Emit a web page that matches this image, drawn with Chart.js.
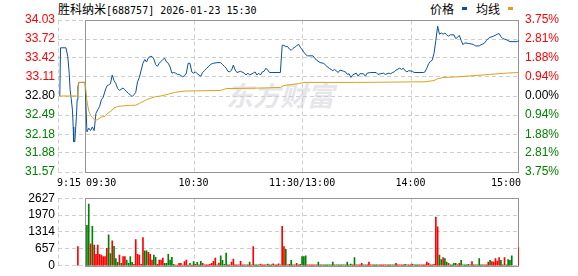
<!DOCTYPE html>
<html>
<head>
<meta charset="utf-8">
<script src="https://cdn.jsdelivr.net/npm/chart.js@4.4.1/dist/chart.umd.min.js"></script>
<style>
  body { margin: 0; background: #fff; width: 578px; height: 276px; overflow: hidden; position: relative; }
  .abs { position: absolute; white-space: nowrap; }
  .cjk { font-family: "Noto Sans CJK SC", sans-serif; font-size: 12px; line-height: 14px; color: #000; }
  .mono { font-family: "DejaVu Sans Mono", monospace; font-size: 10px; }
  .key { position: absolute; width: 5px; height: 3px; }
  #wm { position: absolute; left: 226px; top: 77px; font-family: "Noto Sans CJK SC", sans-serif; font-size: 27px; font-weight: bold; font-style: italic; line-height: 36px; color: #e6e6ea; white-space: nowrap; }
  canvas { position: absolute; left: 0; }
</style>
</head>
<body>
<div id="wm">东方财富</div>
<div class="abs cjk" style="left:58px;top:2px">胜科纳米<span class="mono">[688757] 2026-01-23 15:30</span></div>
<div class="abs cjk" style="left:430px;top:2px">价格</div>
<div class="key" style="left:462px;top:7px;background:#0a50a1"></div>
<div class="abs cjk" style="left:476px;top:2px">均线</div>
<div class="key" style="left:508px;top:7px;background:#dca11c"></div>
<canvas id="priceChart" width="578" height="190" style="top:0"></canvas>
<canvas id="volChart" width="578" height="88" style="top:188px"></canvas>
<script>
// Minutes from 09:30 (13:00 = 120, 15:00 = 240); negative = call auction
const priceTimes = [-14, -13.6, -10.6, -9.6, -8.8, -8.3, -7.7, -7.0, -6.6, -6.3, -5.7, -5.4, -4.8, -4.4, -4.0, -3.5,
    0, 1, 2, 3, 4, 5, 6, 7, 8, 9, 10, 11, 12, 13, 14, 15, 16, 17, 18, 19, 20, 21, 22, 23, 24, 25, 26, 27, 28, 29,
    30, 31, 32, 33, 34, 35, 36, 37, 38, 39, 40, 41, 42, 43, 44, 45, 46, 47, 48, 49, 50, 51, 52, 53, 54, 55, 56, 57, 58, 59,
    60, 61, 62, 63, 64, 65, 66, 67, 68, 69, 70, 71, 73, 75, 76, 77, 78, 79, 80, 81, 82, 83, 84, 86, 88, 89,
    90, 91, 93, 94, 95, 96, 97, 98, 99, 100, 101, 102, 108, 109, 110, 111, 112, 113, 114, 115, 116, 117, 118, 119,
    120, 121, 122, 123, 126, 128, 130, 132, 134, 135, 137, 138, 140, 141, 143, 144, 145, 146, 147, 148,
    150, 151, 152, 154, 155, 156, 158, 161, 162, 165, 166, 168, 169, 170, 171, 172, 174, 175, 176, 177, 178, 179,
    181, 182, 187, 188, 189, 190, 191, 192, 193, 194, 195, 196, 197, 198, 199, 200, 201, 202, 204, 205, 206, 207, 208, 209,
    210, 212, 214, 215, 216, 218, 219, 220, 221, 222, 223, 224, 226, 228, 229, 230, 231, 232, 233, 235, 239, 240];
const prices = [32.80, 33.58, 33.58, 33.44, 33.17, 32.90, 32.76, 32.57, 32.30, 32.06, 32.06, 32.20, 32.47, 32.74, 32.95, 33.02,
    33.02, 32.22, 32.28, 32.24, 32.30, 32.24, 32.52, 32.58, 32.63, 32.74, 32.78, 32.88, 32.96, 32.98, 33.00, 33.14, 33.05, 33.00, 32.92, 32.89, 32.91, 32.93, 32.90, 32.87, 32.84, 32.82, 32.79, 32.82, 32.86, 33.03,
    33.10, 33.22, 33.33, 33.39, 33.35, 33.42, 33.44, 33.44, 33.40, 33.31, 33.28, 33.33, 33.36, 33.39, 33.41, 33.35, 33.33, 33.27, 33.17, 33.18, 33.17, 33.15, 33.15, 33.13, 33.11, 33.13, 33.17, 33.33, 33.33, 33.19,
    33.17, 33.19, 33.16, 33.14, 33.12, 33.18, 33.21, 33.24, 33.27, 33.30, 33.32, 33.33, 33.34, 33.34, 33.31, 33.28, 33.25, 33.20, 33.19, 33.22, 33.30, 33.22, 33.18, 33.20, 33.17, 33.14,
    33.17, 33.14, 33.17, 33.19, 33.14, 33.17, 33.14, 33.19, 33.20, 33.25, 33.22, 33.18, 33.18, 33.62, 33.62, 33.60, 33.60, 33.56, 33.54, 33.57, 33.59, 33.61, 33.64, 33.59,
    33.55, 33.51, 33.47, 33.45, 33.45, 33.38, 33.34, 33.33, 33.27, 33.25, 33.21, 33.23, 33.18, 33.22, 33.20, 33.19, 33.15, 33.16, 33.10, 33.14,
    33.17, 33.12, 33.16, 33.16, 33.12, 33.17, 33.18, 33.18, 33.15, 33.17, 33.15, 33.17, 33.16, 33.18, 33.19, 33.22, 33.25, 33.23, 33.25, 33.21, 33.19, 33.21,
    33.20, 33.18, 33.18, 33.19, 33.25, 33.32, 33.36, 33.38, 33.49, 33.70, 33.93, 33.80, 33.82, 33.80, 33.82, 33.79, 33.77, 33.79, 33.79, 33.73, 33.75, 33.78, 33.70, 33.63,
    33.66, 33.65, 33.64, 33.63, 33.61, 33.61, 33.63, 33.64, 33.66, 33.70, 33.73, 33.75, 33.77, 33.80, 33.81, 33.76, 33.73, 33.72, 33.71, 33.68, 33.68, 33.70];

const avgTimes = [-14, -4.0, -3.5, 0, 1, 2, 3, 5, 6, 7, 9, 11, 12, 14, 15, 16, 18, 21, 25, 28, 30, 32, 34, 36, 39, 42, 46,
    50, 55, 75, 78, 100, 108, 110, 118, 121, 150, 188, 193, 195, 198, 206, 215, 224, 233, 240];
const avgPrices = [32.80, 32.80, 33.02, 33.02, 32.72, 32.56, 32.49, 32.42, 32.41, 32.42, 32.46, 32.47, 32.51, 32.55, 32.57, 32.61, 32.63, 32.64, 32.65, 32.65, 32.68, 32.71, 32.74, 32.76, 32.79, 32.80, 32.83,
    32.86, 32.88, 32.89, 32.92, 32.93, 32.94, 32.97, 33.00, 33.02, 33.02, 33.03, 33.05, 33.08, 33.10, 33.11, 33.13, 33.15, 33.17, 33.18];

// Volume per minute, index = minutes from 09:30 (lots)
const volumes = [
    0, 1574, 2403, 852, 1538, 805, 450, 805, 450, 415, 355, 355, 675, 1207, 473, 970, 757, 284, 130, 415,
    100, 355, 355, 225, 100, 355, 130, 60, 1017, 450, 415, 60, 1100, 580, 580, 520, 450, 225, 415, 325,
    60, 225, 225, 300, 100, 100, 450, 225, 325, 60, 30, 30, 100, 100, 30, 160, 220, 30, 100, 30,
    160, 60, 130, 40, 175, 95, 40, 40, 40, 60, 95, 175, 296, 40, 110, 390, 213, 60, 497, 40,
    40, 142, 260, 40, 40, 40, 178, 40, 40, 40, 40, 142, 40, 745, 40, 40, 40, 70, 40, 40,
    40, 70, 40, 40, 75, 40, 40, 75, 40, 1538, 745, 639, 40, 60, 213, 40, 40, 100, 40, 60,
    355, 355, 390, 40, 40, 40, 40, 40, 40, 140, 40, 40, 40, 40, 40, 40, 40, 140, 40, 40,
    40, 40, 40, 40, 40, 140, 40, 70, 40, 320, 40, 40, 40, 95, 40, 40, 40, 142, 40, 40,
    40, 40, 40, 40, 40, 40, 40, 40, 40, 40, 40, 40, 95, 40, 40, 40, 40, 60, 40, 40,
    40, 70, 40, 40, 40, 40, 40, 40, 40, 142, 95, 40, 40, 60, 1893, 1515, 414, 237, 320, 280,
    142, 95, 40, 40, 95, 95, 40, 95, 213, 40, 40, 40, 60, 40, 160, 40, 40, 40, 280, 40,
    40, 40, 40, 142, 213, 160, 142, 280, 180, 320, 213, 40, 320, 40, 240, 213, 390, 0, 0, 0, 710];
// r = up minute, g = down minute
const volDirs = 'rggrgrrrrrrrrggrgggr' + 'grrggggrrrrrrggrrrgg' + 'rrrrggggggrrrrrrrrgr' + 'grgggrrrrrrrrgrggggr' +
    'grrrrgrrrgrgrrgggrrr' + 'rgrgrgrrgrrgrrggrrgr' + 'gggrrrrrggrgggggggrg' + 'ggggrgggrgrrrrggrrrr' +
    'gggrrrrgrgggrrrrrgrg' + 'rrgggrrrrrrrgrrrggrg' + 'grggggrrgggggrrggrgg' + 'rrgrgrrrrrggrrgggrrrr';
const auctionTime = -4;
const auctionVolume = 745;

const priceTicks = ['34.03', '33.72', '33.42', '33.11', '32.80', '32.49', '32.18', '31.88', '31.57'];
const pctTicks = ['3.75%', '2.81%', '1.88%', '0.94%', '0.00%', '0.94%', '1.88%', '2.81%', '3.75%'];
const volTicks = ['2627', '1970', '1314', '657', '0'];
const timeTicks = [-15, 0, 60, 120, 180, 240];
const timeLabels = ['9:15', '09:30', '10:30', '11:30/13:00', '14:00', '15:00'];

const BLUE = '#0a50a1';
const ORANGE = '#dca11c';
const RED = '#ff0000';
const GREEN = '#008000';
const GRID = '#cdcdcd';
const FRAME = '#959595';
const LABEL_FONT = { family: 'Liberation Sans', size: 12 };

function tickColor(i) {
    if (i < 4) return RED;
    if (i === 4) return '#000';
    return GREEN;
}

// Dashed time lines plus the solid trading-session box
const framePlugin = {
    id: 'frame',
    beforeDatasetsDraw(chart) {
        const { ctx, chartArea: a, scales: { x } } = chart;
        const top = Math.round(a.top) + 0.5;
        const bottom = Math.round(a.bottom) + 0.5;
        ctx.save();
        ctx.lineWidth = 1;
        ctx.strokeStyle = GRID;
        ctx.setLineDash([4, 3]);
        [-15, 60, 120, 180].forEach(t => {
            const px = Math.round(x.getPixelForValue(t)) + 0.5;
            ctx.beginPath();
            ctx.moveTo(px, top);
            ctx.lineTo(px, bottom);
            ctx.stroke();
        });
        ctx.setLineDash([]);
        ctx.strokeStyle = FRAME;
        const x0 = Math.round(x.getPixelForValue(0)) + 0.5;
        const x1 = Math.round(x.getPixelForValue(240)) - 0.5;
        ctx.strokeRect(x0, top, x1 - x0, bottom - top);
        ctx.restore();
    }
};

// Time labels under the price panel
const timeLabelPlugin = {
    id: 'timeLabels',
    afterDraw(chart) {
        const { ctx, chartArea: a, scales: { x } } = chart;
        ctx.save();
        ctx.font = '10px "DejaVu Sans Mono"';
        ctx.fillStyle = '#000';
        ctx.textBaseline = 'middle';
        timeTicks.forEach((t, i) => {
            let px = x.getPixelForValue(t);
            if (i === 0) { ctx.textAlign = 'left'; px -= 1; }
            else if (i === 1) { ctx.textAlign = 'left'; px += 1; }
            else if (i === timeTicks.length - 1) { ctx.textAlign = 'right'; px += 2; }
            else ctx.textAlign = 'center';
            ctx.fillText(timeLabels[i], px, a.bottom + 11);
        });
        ctx.restore();
    }
};

const xScale = {
    type: 'linear', min: -15, max: 240, offset: false,
    ticks: { display: false },
    grid: { display: false, offset: false },
    border: { display: false }
};

// Price panel
new Chart(document.getElementById('priceChart'), {
    type: 'line',
    data: {
        datasets: [{
            label: '均线',
            data: avgTimes.map((t, i) => ({ x: t, y: avgPrices[i] })),
            borderColor: ORANGE,
            borderWidth: 1,
            pointRadius: 0,
            tension: 0
        }, {
            label: '价格',
            data: priceTimes.map((t, i) => ({ x: t, y: prices[i] })),
            borderColor: BLUE,
            borderWidth: 1,
            pointRadius: 0,
            tension: 0
        }]
    },
    options: {
        responsive: false,
        animation: false,
        events: [],
        layout: { autoPadding: false, padding: { top: 20, left: 0, right: 0, bottom: 0 } },
        plugins: { legend: { display: false }, tooltip: { enabled: false } },
        scales: {
            x: { ...xScale, afterFit(s) { s.height = 18; } },
            y: {
                position: 'left', min: 31.57, max: 34.03,
                afterFit(s) { s.width = 58; },
                afterBuildTicks(s) { s.ticks = priceTicks.map(v => ({ value: parseFloat(v) })); },
                ticks: {
                    autoSkip: false, padding: 3, font: LABEL_FONT,
                    color: c => tickColor(c.index),
                    callback: (v, i) => priceTicks[i]
                },
                grid: { color: GRID, drawTicks: false, lineWidth: 1 },
                border: { display: false, dash: [4, 3] }
            },
            y2: {
                position: 'right', min: 31.57, max: 34.03,
                afterFit(s) { s.width = 59; },
                afterBuildTicks(s) { s.ticks = priceTicks.map(v => ({ value: parseFloat(v) })); },
                ticks: {
                    autoSkip: false, padding: 6, font: LABEL_FONT,
                    color: c => tickColor(c.index),
                    callback: (v, i) => pctTicks[i]
                },
                grid: { display: false, drawTicks: false },
                border: { display: false }
            }
        }
    },
    plugins: [framePlugin, timeLabelPlugin]
});

// Volume panel
const volBars = [{ x: auctionTime, y: auctionVolume }];
const volColors = [RED];
volumes.forEach((v, i) => {
    if (v > 0) {
        volBars.push({ x: i, y: v });
        volColors.push(volDirs[i] === 'r' ? RED : GREEN);
    }
});

new Chart(document.getElementById('volChart'), {
    type: 'bar',
    data: {
        datasets: [{
            label: '成交量',
            data: volBars,
            backgroundColor: volColors,
            borderWidth: 0,
            barThickness: 1
        }]
    },
    options: {
        responsive: false,
        animation: false,
        events: [],
        layout: { autoPadding: false, padding: { top: 8, left: 0, right: 59, bottom: 0 } },
        plugins: { legend: { display: false }, tooltip: { enabled: false } },
        scales: {
            x: { ...xScale, afterFit(s) { s.height = 6; } },
            y: {
                position: 'left', min: 0, max: 2627,
                afterFit(s) { s.width = 58; },
                afterBuildTicks(s) { s.ticks = volTicks.map(v => ({ value: parseFloat(v) })); },
                ticks: {
                    autoSkip: false, padding: 3, font: LABEL_FONT, color: '#000',
                    callback: (v, i) => volTicks[i]
                },
                grid: { color: GRID, drawTicks: false, lineWidth: 1 },
                border: { display: false, dash: [4, 3] }
            }
        }
    },
    plugins: [framePlugin]
});
</script>
</body>
</html>
